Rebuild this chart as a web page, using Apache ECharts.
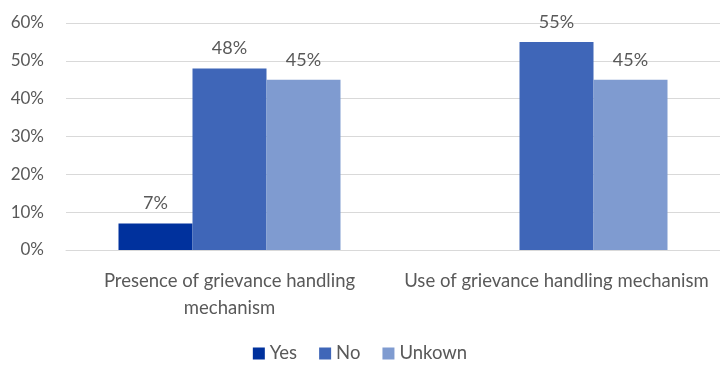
<!DOCTYPE html>
<html>
<head>
<meta charset="utf-8">
<script src="https://cdn.jsdelivr.net/npm/echarts@6/dist/echarts.min.js"></script>
<style>
  html, body { margin: 0; padding: 0; background: #fff; }
  #chart { width: 720px; height: 365px; }
</style>
</head>
<body>
<div id="chart"></div>
<script>
// Grievance handling survey results (percent of respondents)
const categories = ['Presence of grievance handling\nmechanism', 'Use of grievance handling mechanism'];
const seriesNames = ['Yes', 'No', 'Unkown'];
const yesValues = [7, null];
const noValues = [48, 55];
const unknownValues = [45, 45];
const yTicks = [0, 10, 20, 30, 40, 50, 60];

const colors = ['#00319D', '#3F66B8', '#7F9BD0'];
const textColor = '#595959';
const fontFamily = 'Lato, "Open Sans", sans-serif';

const chart = echarts.init(document.getElementById('chart'));

function barSeries(name, data, color) {
  return {
    name: name,
    type: 'bar',
    data: data,
    barWidth: 74,
    barGap: '0%',
    itemStyle: { color: color },
    label: {
      show: true,
      position: 'top',
      distance: 11,
      formatter: p => p.value == null ? '' : p.value + '%',
      color: textColor,
      fontSize: 18,
      fontFamily: fontFamily
    }
  };
}

chart.setOption({
  animation: false,
  textStyle: { fontFamily: fontFamily },
  // plot area runs slightly past the right edge of the canvas
  grid: { left: 66, width: 660, top: 23, height: 227, containLabel: false },
  legend: {
    bottom: -3,
    left: 'center',
    itemWidth: 12,
    itemHeight: 12,
    itemGap: 22,
    icon: 'rect',
    textStyle: { color: textColor, fontSize: 18.5, fontFamily: fontFamily },
    data: seriesNames
  },
  xAxis: {
    type: 'category',
    data: categories,
    axisLine: { show: true, lineStyle: { color: '#d9d9d9', width: 1 } },
    axisTick: { show: false },
    axisLabel: {
      color: textColor,
      fontSize: 18.5,
      fontFamily: fontFamily,
      margin: 18,
      lineHeight: 27,
      interval: 0
    }
  },
  yAxis: {
    type: 'value',
    min: yTicks[0],
    max: yTicks[yTicks.length - 1],
    interval: 10,
    axisLine: { show: false },
    axisTick: { show: false },
    splitLine: { lineStyle: { color: '#d9d9d9', width: 1 } },
    axisLabel: {
      formatter: '{value}%',
      color: textColor,
      fontSize: 17,
      fontFamily: fontFamily,
      margin: 22
    }
  },
  series: [
    barSeries(seriesNames[0], yesValues, colors[0]),
    barSeries(seriesNames[1], noValues, colors[1]),
    barSeries(seriesNames[2], unknownValues, colors[2])
  ]
});
</script>
</body>
</html>
